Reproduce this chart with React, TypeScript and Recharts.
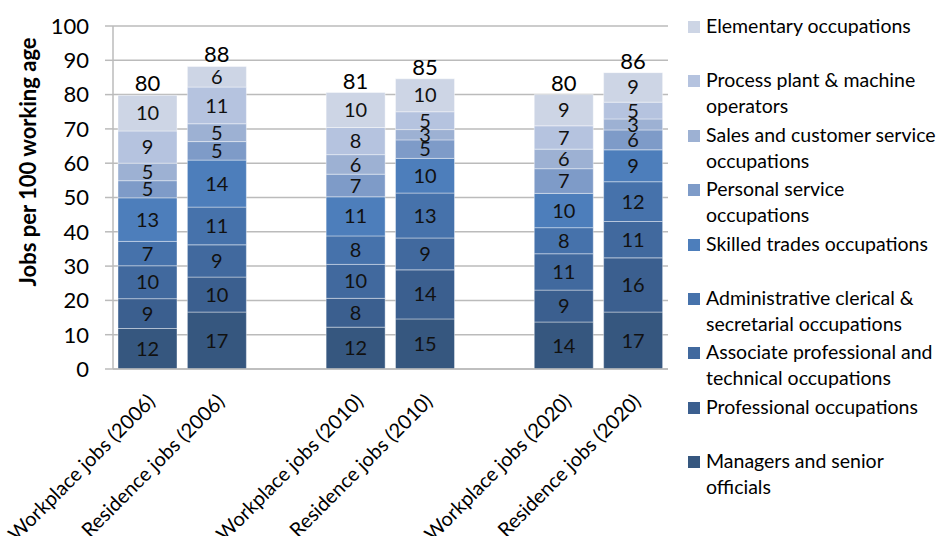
import { BarChart, Bar, XAxis, YAxis, CartesianGrid, LabelList, Label } from "recharts";

const categories = [
  "Workplace jobs (2006)",
  "Residence jobs (2006)",
  "Workplace jobs (2010)",
  "Residence jobs (2010)",
  "Workplace jobs (2020)",
  "Residence jobs (2020)",
];

// bottom to top of each stack
const managers = [11.8, 16.6, 12.2, 14.6, 13.7, 16.6];
const professional = [8.7, 10.2, 8.4, 14.3, 9.3, 15.8];
const associate = [9.6, 9.4, 9.9, 9.3, 10.6, 10.6];
const admin = [7.1, 11.0, 8.3, 13.1, 7.6, 11.6];
const skilled = [12.7, 13.7, 11.4, 10.1, 10.0, 9.3];
const personal = [5.0, 5.4, 6.6, 5.4, 7.2, 5.8];
const sales = [5.1, 5.2, 5.7, 3.0, 5.7, 3.2];
const process = [9.4, 10.7, 7.9, 5.2, 6.8, 4.9];
const elementary = [10.4, 6.0, 10.2, 9.6, 9.1, 8.6];

const yTicks = [0, 10, 20, 30, 40, 50, 60, 70, 80, 90, 100];

const series = [
  { key: "managers", name: "Managers and senior\nofficials", values: managers, color: "#36577F" },
  { key: "professional", name: "Professional occupations", values: professional, color: "#3B5F8F" },
  { key: "associate", name: "Associate professional and\ntechnical occupations", values: associate, color: "#41699E" },
  { key: "admin", name: "Administrative clerical &\nsecretarial occupations", values: admin, color: "#4672AB" },
  { key: "skilled", name: "Skilled trades occupations", values: skilled, color: "#4D7EBB" },
  { key: "personal", name: "Personal service\noccupations", values: personal, color: "#7E9BC8" },
  { key: "sales", name: "Sales and customer service\noccupations", values: sales, color: "#9DB1D3" },
  { key: "process", name: "Process plant & machine\noperators", values: process, color: "#B5C3DF" },
  { key: "elementary", name: "Elementary occupations", values: elementary, color: "#CDD5E5" },
];

// build rows, with an empty spacer after each pair
const data: any[] = [];
categories.forEach((cat, i) => {
  const row: any = { name: cat };
  let total = 0;
  series.forEach((s) => {
    row[s.key] = s.values[i];
    total += s.values[i];
  });
  row.total = total;
  data.push(row);
  if (i % 2 === 1 && i < categories.length - 1) data.push({ name: "" });
});

const FONT = "Lato, 'Open Sans', sans-serif";
const GRID = "#BBBBBB";

const roundLabel = (v: any) => (v == null || v === "" ? "" : Math.round(Number(v)));

const XTick = ({ x, y, payload }: any) => {
  if (!payload.value) return null;
  const px = x + 3;
  const py = y + 28;
  return (
    <text
      x={px}
      y={py}
      transform={`rotate(-45 ${px} ${py})`}
      textAnchor="end"
      dominantBaseline="central"
      fontSize={20}
      fontFamily={FONT}
      fill="#000"
    >
      {payload.value}
    </text>
  );
};

const YTitle = () => (
  <text
    x={27}
    y={162}
    transform="rotate(-90 27 162)"
    textAnchor="middle"
    dominantBaseline="central"
    fontSize={22}
    fontWeight="bold"
    fontFamily={FONT}
    fill="#000"
  >
    Jobs per 100 working age
  </text>
);

const legendItems = [...series].reverse();

export default function App() {
  return (
    <div style={{ position: "absolute", left: 0, top: 0, width: 937, height: 536, background: "#fff" }}>
      <BarChart
        width={937}
        height={536}
        data={data}
        margin={{ top: 26, right: 269, left: 0, bottom: 0 }}
        barSize={59}
      >
        <CartesianGrid vertical={false} stroke={GRID} strokeWidth={1.5} />
        <XAxis
          dataKey="name"
          interval={0}
          tickLine={false}
          tickSize={0}
          tickMargin={0}
          height={167}
          axisLine={{ stroke: GRID, strokeWidth: 1.5 }}
          tick={<XTick />}
        />
        <YAxis
          domain={[0, 100]}
          ticks={yTicks}
          width={113}
          tickSize={8}
          tickMargin={16}
          axisLine={{ stroke: GRID, strokeWidth: 1.5 }}
          tickLine={{ stroke: GRID, strokeWidth: 1.5 }}
          tick={{ fontSize: 22, fontFamily: FONT, fill: "#000" }}
        >
          <Label content={<YTitle />} />
        </YAxis>
        {series.map((s, idx) => (
          <Bar
            key={s.key}
            dataKey={s.key}
            name={s.name}
            stackId="a"
            fill={s.color}
            stroke="#ffffff"
            strokeOpacity={0.4}
            strokeWidth={1}
            isAnimationActive={false}
          >
            <LabelList
              dataKey={s.key}
              position="center"
              formatter={roundLabel}
              style={{ fontSize: 20, fontFamily: FONT, fill: "#111" }}
            />
            {idx === series.length - 1 && (
              <LabelList
                dataKey="total"
                position="top"
                offset={4}
                formatter={roundLabel}
                style={{ fontSize: 22, fontFamily: FONT, fill: "#000" }}
              />
            )}
          </Bar>
        ))}
      </BarChart>
      <div
        style={{
          position: "absolute",
          left: 688,
          top: 13,
          width: 249,
          fontFamily: FONT,
          fontSize: 19.5,
          color: "#000",
        }}
      >
        {legendItems.map((s) => (
          <div key={s.key} style={{ height: 54.4, display: "flex", alignItems: "flex-start" }}>
            <div style={{ width: 12, height: 12, background: s.color, marginTop: 8, marginRight: 6, flexShrink: 0 }} />
            <div style={{ whiteSpace: "pre-line", lineHeight: "26px" }}>{s.name}</div>
          </div>
        ))}
      </div>
    </div>
  );
}
